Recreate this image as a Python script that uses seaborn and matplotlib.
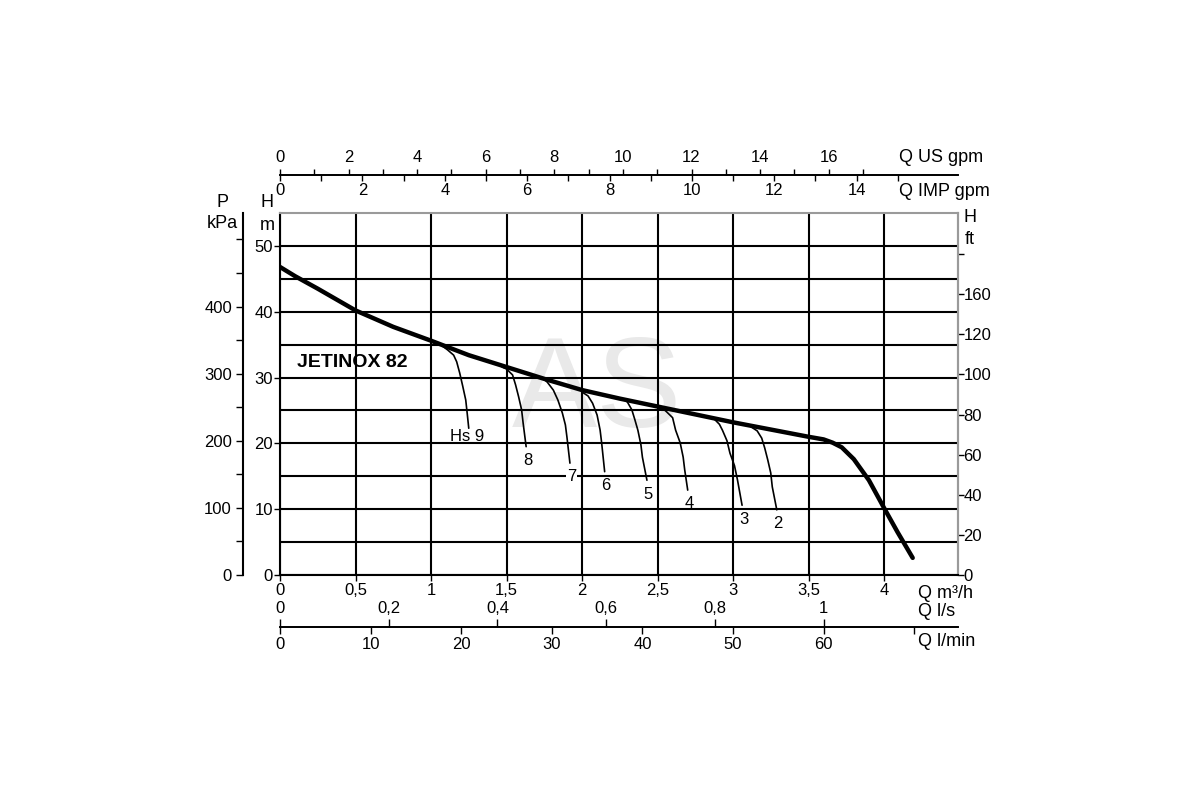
import matplotlib
matplotlib.use("Agg")
import matplotlib.pyplot as plt
import seaborn as sns
from matplotlib.ticker import FixedLocator, FixedFormatter

# main pump curve JETINOX 82 (Q in m3/h, H in m)
main_q = [0, 0.1, 0.25, 0.5, 0.75, 1.0, 1.25, 1.5, 1.75, 2.0, 2.25, 2.5, 2.75,
          3.0, 3.25, 3.5, 3.6, 3.66, 3.72, 3.8, 3.9, 4.0, 4.09, 4.19]
main_h = [46.8, 45.4, 43.5, 40.2, 37.7, 35.6, 33.4, 31.6, 29.8, 28.1, 26.8, 25.6, 24.4,
          23.2, 22.1, 21.0, 20.6, 20.1, 19.4, 17.6, 14.4, 10.2, 6.5, 2.6]

# suction height branches (Hs in m)
hs_labels = ["Hs 9", "8", "7", "6", "5", "4", "3", "2"]
hs_q = [
    [1.08, 1.11, 1.15, 1.17, 1.19, 1.21, 1.23, 1.24, 1.25],
    [1.47, 1.50, 1.54, 1.56, 1.58, 1.60, 1.61, 1.63],
    [1.74, 1.77, 1.81, 1.84, 1.87, 1.89, 1.90, 1.92],
    [2.00, 2.04, 2.07, 2.10, 2.12, 2.13, 2.14, 2.15],
    [2.26, 2.30, 2.33, 2.35, 2.37, 2.39, 2.40, 2.43],
    [2.53, 2.56, 2.60, 2.62, 2.65, 2.67, 2.68, 2.70],
    [2.88, 2.91, 2.93, 2.96, 2.98, 3.01, 3.03, 3.06],
    [3.12, 3.16, 3.19, 3.21, 3.23, 3.25, 3.26, 3.29],
]
hs_h = [
    [34.7, 34.2, 33.4, 32.4, 30.7, 28.7, 26.6, 24.5, 22.3],
    [31.6, 31.3, 30.4, 28.9, 27.1, 25.1, 23.1, 19.5],
    [29.9, 29.3, 28.1, 26.6, 24.6, 22.8, 21.0, 17.0],
    [27.8, 27.2, 26.1, 24.3, 22.0, 20.1, 17.9, 15.7],
    [26.9, 26.3, 25.1, 23.6, 22.0, 19.8, 17.9, 14.4],
    [25.4, 24.8, 23.9, 22.0, 20.1, 17.9, 16.0, 12.9],
    [23.6, 22.9, 22.0, 20.4, 18.5, 16.6, 14.4, 10.6],
    [22.5, 21.9, 20.8, 19.3, 17.5, 15.5, 13.4, 9.9],
]

# axis ticks
m3h_ticks = [0, 0.5, 1, 1.5, 2, 2.5, 3, 3.5, 4]
h_m_ticks = [0, 10, 20, 30, 40, 50]
kpa_ticks = [0, 100, 200, 300, 400, 500]
kpa_labels = ["0", "100", "200", "300", "400", ""]
ft_ticks = [0, 20, 40, 60, 80, 100, 120, 140, 160]
ft_labels = ["0", "20", "40", "60", "80", "100", "120", "160", ""]
us_gpm_ticks = [0, 2, 4, 6, 8, 10, 12, 14, 16]
imp_gpm_ticks = [0, 2, 4, 6, 8, 10, 12, 14]
ls_ticks = [0, 0.2, 0.4, 0.6, 0.8, 1.0]
lmin_ticks = [0, 10, 20, 30, 40, 50, 60, 70]
lmin_labels = ["0", "10", "20", "30", "40", "50", "60", ""]


def comma(v):
    return f"{v:g}".replace(".", ",")


sns.set_theme(style="white", rc={"text.color": "black", "xtick.color": "black",
                                 "ytick.color": "black", "axes.edgecolor": "black"})
plt.rcParams["font.family"] = ["Liberation Sans", "DejaVu Sans"]
FS = 12

fig = plt.figure(figsize=(12, 8), dpi=100)
ax = fig.add_axes([280 / 1200, 1 - 575 / 800, 678 / 1200, 362 / 800])
ax.set_xlim(0, 4.49)
ax.set_ylim(0, 55)

# grid every 0.5 m3/h and every 5 m
ax.set_axisbelow(True)
ax.set_xticks(m3h_ticks)
ax.set_xticklabels([comma(v) for v in m3h_ticks])
ax.set_yticks(h_m_ticks)
ax.yaxis.set_minor_locator(FixedLocator([5, 15, 25, 35, 45]))
ax.grid(which="both", color="black", lw=1.5)
ax.tick_params(which="minor", length=0)
ax.tick_params(axis="x", bottom=True, length=4, width=1, pad=2, labelsize=FS)
ax.tick_params(axis="y", left=True, length=4, width=1, pad=1, labelsize=FS)
for s in ["left", "bottom"]:
    ax.spines[s].set_color("black")
    ax.spines[s].set_linewidth(1.5)
for s in ["top", "right"]:
    ax.spines[s].set_color("#9a9a9a")
    ax.spines[s].set_linewidth(1.5)

# watermark
ax.text(2.1, 27.5, "AS", fontsize=92, color="#e9e9e9", ha="center",
        va="center", zorder=0.2)

# curves
sns.lineplot(x=main_q, y=main_h, ax=ax, color="black", lw=3.2, sort=False,
             zorder=4)
for lab, q, h in zip(hs_labels, hs_q, hs_h):
    sns.lineplot(x=q, y=h, ax=ax, color="black", lw=1.2, sort=False, zorder=3)
    if lab.startswith("Hs"):
        ax.annotate(lab, (q[-1], h[-1]), xytext=(11, -6), textcoords="offset points",
                    ha="right", va="center", fontsize=FS)
    else:
        # the "7" label sits on a grid line and blanks it out
        box = dict(fc="white", ec="none", pad=0.5) if lab == "7" else None
        ax.annotate(lab, (q[-1], h[-1]), xytext=(1, -10), textcoords="offset points",
                    ha="center", va="center", fontsize=FS, bbox=box)

ax.text(0.11, 32.3, "JETINOX 82", fontsize=14, fontweight="bold", va="center")

# top flow axes (gpm)
sec_us = ax.secondary_xaxis(1.105, functions=(lambda q: q * 4.4029, lambda g: g / 4.4029))
sec_us.set_xticks(us_gpm_ticks)
sec_us.xaxis.set_minor_locator(FixedLocator(list(range(1, 18, 2))))
sec_us.tick_params(which="both", direction="out", length=4, width=1, pad=3, labelsize=FS)
sec_imp = ax.secondary_xaxis(1.105, functions=(lambda q: q * 3.6662, lambda g: g / 3.6662))
sec_imp.set_alignment("bottom")
sec_imp.set_xticks(imp_gpm_ticks)
sec_imp.xaxis.set_minor_locator(FixedLocator(list(range(1, 16, 2))))
sec_imp.tick_params(which="both", direction="out", length=4, width=1, pad=2, labelsize=FS)

# bottom flow axes (l/s, l/min)
sec_ls = ax.secondary_xaxis(-0.1436, functions=(lambda q: q / 3.6, lambda l: l * 3.6))
sec_ls.set_alignment("top")
sec_ls.set_xticks(ls_ticks)
sec_ls.set_xticklabels([comma(v) for v in ls_ticks])
sec_ls.tick_params(direction="out", length=6, width=1, pad=2, labelsize=FS)
sec_lm = ax.secondary_xaxis(-0.1436, functions=(lambda q: q * 1000 / 60, lambda l: l * 60 / 1000))
sec_lm.set_xticks(lmin_ticks)
sec_lm.set_xticklabels(lmin_labels)
sec_lm.tick_params(direction="out", length=5, width=1, pad=2, labelsize=FS)

# pressure axis kPa (left, offset)
sec_p = ax.secondary_yaxis(-37 / 678, functions=(lambda h: h * 9.80665, lambda p: p / 9.80665))
sec_p.yaxis.set_major_locator(FixedLocator(kpa_ticks))
sec_p.yaxis.set_major_formatter(FixedFormatter(kpa_labels))
sec_p.yaxis.set_minor_locator(FixedLocator([50, 150, 250, 350, 450]))
sec_p.tick_params(which="both", direction="out", length=5, width=1, pad=3, labelsize=FS)
sec_p.spines["left"].set_linewidth(1.5)

# head axis ft (right)
sec_ft = ax.secondary_yaxis("right", functions=(lambda h: h / 0.3048, lambda f: f * 0.3048))
sec_ft.yaxis.set_major_locator(FixedLocator(ft_ticks))
sec_ft.yaxis.set_major_formatter(FixedFormatter(ft_labels))
sec_ft.tick_params(direction="out", length=4, width=1, pad=0, labelsize=FS)
sec_ft.spines["right"].set_color("#9a9a9a")
sec_ft.spines["right"].set_linewidth(1.5)


# axis captions
def ftxt(x, y, s, **kw):
    fig.text(x / 1200, 1 - y / 800, s, fontsize=FS + 1, va="center", **kw)


ftxt(222, 203, "P", ha="center")
ftxt(222, 224, "kPa", ha="center")
ftxt(267, 203, "H", ha="center")
ftxt(267, 225, "m", ha="center")
ftxt(970, 217, "H", ha="center")
ftxt(970, 240, "ft", ha="center")
ftxt(899, 158, "Q US gpm", ha="left")
ftxt(899, 191, "Q IMP gpm", ha="left")
ftxt(918, 593, "Q m³/h", ha="left")
ftxt(918, 612, "Q l/s", ha="left")
ftxt(918, 641, "Q l/min", ha="left")

fig.savefig("out.png", dpi=100)
